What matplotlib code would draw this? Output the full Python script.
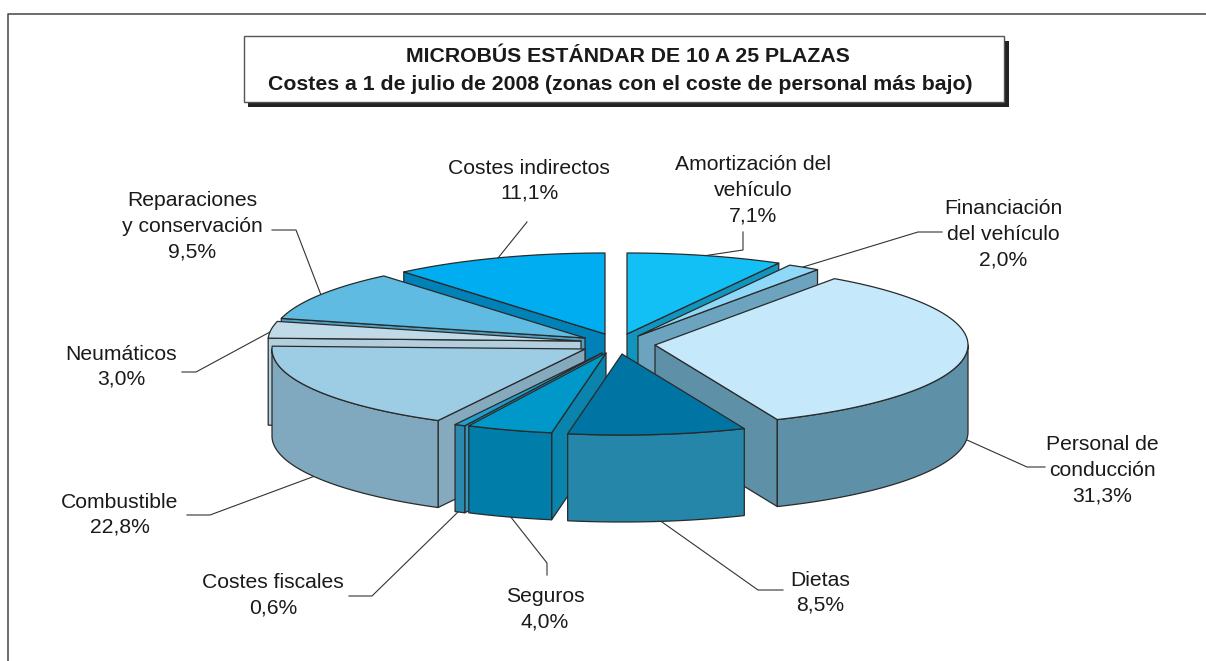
import numpy as np
import matplotlib
matplotlib.use('Agg')
import matplotlib.pyplot as plt
from matplotlib.patches import Polygon, Rectangle

plt.rcParams['font.family'] = ['Liberation Sans', 'DejaVu Sans']

title_lines = ['MICROBÚS ESTÁNDAR DE 10 A 25 PLAZAS',
               'Costes a 1 de julio de 2008 (zonas con el coste de personal más bajo)']
categories = ['Amortización del\nvehículo', 'Financiación\ndel vehículo', 'Personal de\nconducción',
              'Dietas', 'Seguros', 'Costes fiscales', 'Combustible', 'Neumáticos',
              'Reparaciones\ny conservación', 'Costes indirectos']
values = [7.1, 2.0, 31.3, 8.5, 4.0, 0.6, 22.8, 3.0, 9.5, 11.1]

# slice styling, same order as categories
top_colors = ['#13c0f5', '#8fd8f7', '#c5e9fa', '#0074a2', '#0098c8',
              '#1ea0cf', '#9dcde5', '#c1dae8', '#5fbbe2', '#00adf0']
rim_colors = ['#1295bd', '#6ca3be', '#5e90a8', '#2586aa', '#007da8',
              '#2a89ae', '#80a8bf', '#b3cfdd', '#4f9fc0', '#0082b8']
face_colors = ['#1295bd', '#6ca3be', '#5e90a8', '#2586aa', '#0a84ac',
               '#3498bd', '#86aabd', '#b3cfdd', '#4f9fc0', '#0082b8']
# exploded apex of each slice, in pixels
apex_x = [627, 638, 655, 622, 606, 602, 585, 581, 585, 605]
apex_y = [334, 336, 345, 354, 353, 353, 349, 341, 338, 334]
draw_order = [9, 0, 8, 1, 7, 2, 6, 5, 4, 3]

# the pie is drawn in perspective, so share -> angle on the ellipse is not linear
# (the shares add up to 99.9)
warp_share = [0, 7.1, 9.1, 40.4, 48.9, 52.9, 53.5, 76.3, 79.3, 88.8, 99.9]
warp_angle = [0, 29, 35, 157, 190, 206, 208, 272, 284, 320, 360]

rx, ry, depth = 313, 81, 87

# label centre x, y of first line
label_x = [753, 1003, 1102, 820, 545, 273, 120, 121, 192, 529]
label_y = [165, 209, 445, 580, 597, 583, 502, 354, 201, 168]
leaders = [[(703, 256), (743, 250), (743, 232)],
           [(803, 267), (918, 232), (942, 232)],
           [(967, 440), (1027, 467), (1045, 467)],
           [(662, 522), (758, 590), (783, 590)],
           [(510, 516), (547, 563), (547, 575)],
           [(459, 511), (372, 596), (349, 596)],
           [(315, 476), (210, 515), (187, 515)],
           [(270, 332), (196, 372), (182, 372)],
           [(321, 295), (296, 230), (272, 230)],
           [(498, 258), (527, 222)]]


def rim_xy(cx, cy, t):
    t = np.radians(t)
    return cx + rx * np.sin(t), cy - ry * np.cos(t)


fig = plt.figure(figsize=(12.06, 6.61), dpi=100)
ax = fig.add_axes([0, 0, 1, 1])
ax.set_xlim(0, 1206)
ax.set_ylim(661, 0)
ax.axis('off')

# outer frame
ax.plot([8, 8, 1206], [661, 14, 14], color='#444444', lw=1.1, zorder=1)

# title box with its shadow
ax.add_patch(Rectangle((248, 41), 761, 66, fc='#222222', ec='none', zorder=1))
ax.add_patch(Rectangle((244, 36), 760, 66, fc='white', ec='#555555', lw=1.0, zorder=2))
ax.text(628, 56, title_lines[0], ha='center', va='center', fontsize=15.3, fontweight='bold',
        color='#1a1a1a', zorder=3)
ax.text(620, 85, title_lines[1], ha='center', va='center', fontsize=15.3, fontweight='bold',
        color='#1a1a1a', zorder=3)

cum = np.concatenate([[0], np.cumsum(values)])
angles = np.interp(cum, warp_share, warp_angle)

edge = dict(ec='#2a2a2a', lw=0.9, joinstyle='round')
z = 5
for i in draw_order:
    t1, t2 = angles[i], angles[i + 1]
    cx, cy = apex_x[i], apex_y[i]

    # cut faces: only the ones turned towards the viewer
    for t, visible in ((t2, t2 < 180), (t1, t1 > 180)):
        if visible:
            x, y = rim_xy(cx, cy, t)
            pts = [(cx, cy), (x, y), (x, y + depth), (cx, cy + depth)]
            ax.add_patch(Polygon(pts, fc=face_colors[i], zorder=z, **edge))
            z += 1

    # outer wall, front half of the ellipse only
    lo, hi = max(t1, 90), min(t2, 270)
    if lo < hi:
        tt = np.linspace(lo, hi, 80)
        x, y = rim_xy(cx, cy, tt)
        pts = np.column_stack([np.r_[x, x[::-1]], np.r_[y, (y + depth)[::-1]]])
        ax.add_patch(Polygon(pts, fc=rim_colors[i], zorder=z, **edge))
        z += 1

    # top
    tt = np.linspace(t1, t2, 80)
    x, y = rim_xy(cx, cy, tt)
    pts = np.column_stack([np.r_[cx, x], np.r_[cy, y]])
    ax.add_patch(Polygon(pts, fc=top_colors[i], zorder=z, **edge))
    z += 1

# labels and leader lines
line_step = 25.4
for i, name in enumerate(categories):
    lines = name.split('\n') + ['{:.1f}%'.format(values[i]).replace('.', ',')]
    for k, line in enumerate(lines):
        ax.text(label_x[i], label_y[i] + k * line_step, line, ha='center', va='center',
                fontsize=15.2, color='#1a1a1a', zorder=60)
    xs, ys = zip(*leaders[i])
    ax.plot(xs, ys, color='#333333', lw=0.8, zorder=3)

fig.savefig('out.png', dpi=100)
